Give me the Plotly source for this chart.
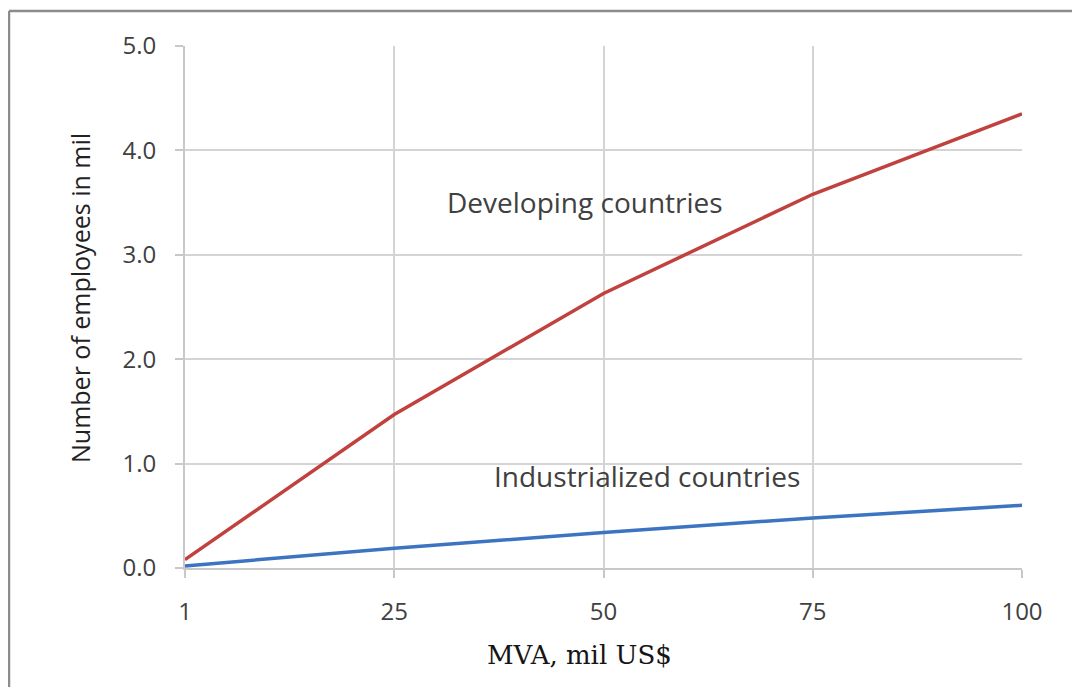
import plotly.graph_objects as go

mva = ["1", "25", "50", "75", "100"]
developing = [0.08, 1.47, 2.63, 3.58, 4.35]
industrialized = [0.02, 0.19, 0.34, 0.48, 0.60]
y_ticks = [0, 1, 2, 3, 4, 5]
y_tick_text = ["0.0", "1.0", "2.0", "3.0", "4.0", "5.0"]

# page is drawn with an 8px body margin, so the figure is a bit smaller
W, H = 1072, 679
L, R, T, B = 177, 58, 38, 119
pw, ph = W - L - R, H - T - B

def px_x(p):
    return (p - L) / pw

def px_y(p):
    return (H - B - p) / ph

fig = go.Figure()
fig.add_trace(go.Scatter(x=mva, y=developing, mode="lines",
                         line=dict(color="#c0413d", width=3.5), name="Developing countries"))
fig.add_trace(go.Scatter(x=mva, y=industrialized, mode="lines",
                         line=dict(color="#3c74c2", width=3.5), name="Industrialized countries"))

fig.add_annotation(x=1.91, y=3.51, text="Developing countries", showarrow=False,
                   font=dict(size=28, color="#404040", family="Open Sans"))
fig.add_annotation(x=2.21, y=0.88, text="Industrialized countries", showarrow=False,
                   font=dict(size=28, color="#404040", family="Open Sans"))

# axis titles placed as annotations (slightly off-centre in the original)
fig.add_annotation(xref="paper", yref="paper", x=px_x(571), y=px_y(647),
                   xanchor="center", yanchor="middle",
                   text="MVA, mil US$", showarrow=False,
                   font=dict(family="DejaVu Serif", size=26, color="#151515"))
fig.add_annotation(xref="paper", yref="paper", x=px_x(72), y=px_y(290),
                   xanchor="center", yanchor="middle",
                   text="Number of employees in mil", showarrow=False, textangle=-90,
                   font=dict(family="Open Sans", size=25, color="#222222"))

# outer frame (only top and left edges visible in the original)
fig.add_shape(type="line", xref="paper", yref="paper",
              x0=px_x(1), x1=px_x(1080), y0=px_y(3), y1=px_y(3),
              line=dict(color="#8c8c8c", width=2.5))
fig.add_shape(type="line", xref="paper", yref="paper",
              x0=px_x(1), x1=px_x(1), y0=px_y(3), y1=px_y(685),
              line=dict(color="#8c8c8c", width=2.5))

fig.update_layout(
    width=W, height=H,
    margin=dict(l=L, r=R, t=T, b=B),
    paper_bgcolor="white", plot_bgcolor="white",
    showlegend=False,
    font=dict(family="Open Sans", color="#404040", size=25),
)
fig.update_xaxes(
    type="category", range=[0, 4],
    showgrid=True, gridcolor="#d4d4d4", gridwidth=2,
    showline=True, linecolor="#c8c8c8", linewidth=2,
    ticks="outside", ticklen=8, tickcolor="#c8c8c8", tickwidth=2,
    tickfont=dict(size=24, color="#404040"), ticklabelstandoff=13,
)
fig.update_yaxes(
    range=[0, 5], tickvals=y_ticks, ticktext=y_tick_text,
    showgrid=True, gridcolor="#d4d4d4", gridwidth=2,
    showline=True, linecolor="#c8c8c8", linewidth=2,
    ticks="outside", ticklen=8, tickcolor="#c8c8c8", tickwidth=2,
    tickfont=dict(size=24, color="#404040"), ticklabelstandoff=14,
    zeroline=False,
)

fig.write_html("out.html")
